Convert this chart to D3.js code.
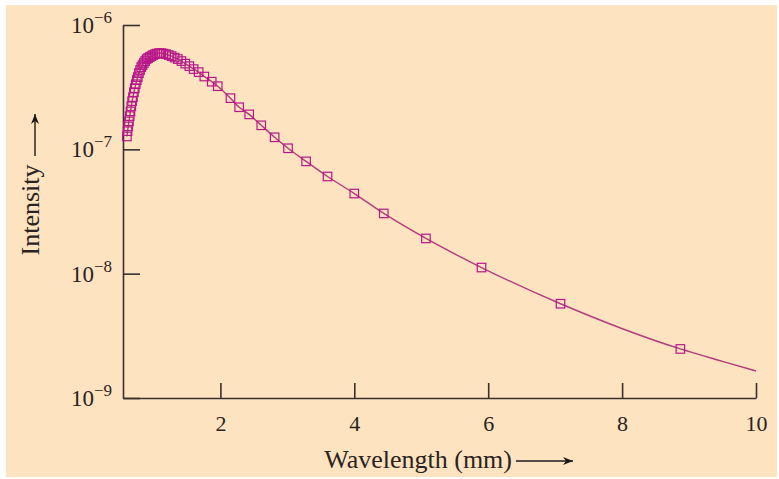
<!DOCTYPE html>
<html lang="en">
<head>
<meta charset="UTF-8">
<script src="https://d3js.org/d3.v7.min.js"></script>
<title>Intensity vs Wavelength</title>
<style>
  body { margin: 0; background: #ffffff; }
  text { font-family: "Liberation Serif", "DejaVu Serif", serif; fill: #2b2222; }
</style>
</head>
<body>
<div id="viz"></div>
<script>
const markerWavelength = [0.603, 0.613, 0.623, 0.634, 0.645, 0.657, 0.669, 0.681, 0.694, 0.708,
  0.721, 0.736, 0.751, 0.766, 0.783, 0.800, 0.818, 0.836, 0.856, 0.876,
  0.898, 0.920, 0.944, 0.969, 0.995, 1.023, 1.052, 1.083, 1.116, 1.151,
  1.188, 1.228, 1.270, 1.316, 1.364, 1.417, 1.475, 1.536, 1.600, 1.675,
  1.760, 1.870, 1.960, 2.150, 2.280, 2.430, 2.610, 2.810, 3.010, 3.280,
  3.600, 4.000, 4.440, 5.070, 5.900, 7.080, 8.870]
const markerIntensity = [1.27e-7, 1.40e-7, 1.53e-7, 1.68e-7, 1.85e-7, 2.02e-7, 2.22e-7, 2.44e-7, 2.63e-7, 2.88e-7,
  3.10e-7, 3.34e-7, 3.60e-7, 3.81e-7, 4.10e-7, 4.34e-7, 4.58e-7, 4.75e-7, 4.94e-7, 5.13e-7,
  5.32e-7, 5.42e-7, 5.52e-7, 5.62e-7, 5.73e-7, 5.83e-7, 5.89e-7, 5.94e-7, 5.94e-7, 5.89e-7,
  5.83e-7, 5.73e-7, 5.62e-7, 5.47e-7, 5.32e-7, 5.13e-7, 4.89e-7, 4.67e-7, 4.42e-7, 4.18e-7,
  3.85e-7, 3.50e-7, 3.22e-7, 2.58e-7, 2.18e-7, 1.91e-7, 1.56e-7, 1.25e-7, 1.02e-7, 8.0e-8,
  6.05e-8, 4.41e-8, 3.05e-8, 1.92e-8, 1.12e-8, 5.73e-9, 2.48e-9]

// fitted curve continues past the last point
const tailWavelength = [9.5, 10.0]
const tailIntensity = [1.97e-9, 1.65e-9]

const xTicks = [2, 4, 6, 8, 10]
const yTicks = [1e-9, 1e-8, 1e-7, 1e-6]
const yTickExp = ["\u22129", "\u22128", "\u22127", "\u22126"]

const fullWidth = 779
const fullHeight = 479
const margins = { top: 25, right: 23, bottom: 81, left: 123 }
const width = fullWidth - margins.left - margins.right
const height = fullHeight - margins.top - margins.bottom

const svg = d3.select("#viz")
  .append("svg")
  .attr("width", fullWidth)
  .attr("height", fullHeight)

svg.append("rect")
  .attr("x", 6).attr("y", 5)
  .attr("width", fullWidth - 8).attr("height", fullHeight - 7)
  .attr("fill", "#fde3bf")

const g = svg.append("g")
  .attr("transform", "translate(" + margins.left + "," + margins.top + ")")

const xScale = d3.scaleLinear().domain([0.545, 10]).range([0, width])
const yScale = d3.scaleLog().domain([1e-9, 1e-6]).range([height, 0])

const axisColor = "#3b3030"

// x axis, ticks pointing inward
const xAxis = g.append("g")
  .attr("transform", "translate(0," + height + ")")
  .call(d3.axisBottom(xScale).tickValues(xTicks).tickSize(-15).tickPadding(17).tickSizeOuter(0))
xAxis.select(".domain").attr("stroke", axisColor).attr("stroke-width", 1.6)
xAxis.selectAll(".tick line").attr("stroke", axisColor).attr("stroke-width", 1.6)
xAxis.selectAll(".tick text").attr("font-size", 22).attr("fill", "#2b2222")
  .attr("font-family", "Liberation Serif").attr("dy", "0.71em")

// y axis, ticks pointing inward, labels as 10^n
const yAxis = g.append("g")
  .call(d3.axisLeft(yScale).tickValues(yTicks).tickSize(-17).tickSizeOuter(0).tickFormat(""))
yAxis.select(".domain").attr("stroke", axisColor).attr("stroke-width", 1.6)
yAxis.selectAll(".tick line").attr("stroke", axisColor).attr("stroke-width", 1.6)

yTicks.forEach((v, i) => {
  const t = g.append("text")
    .attr("x", -11)
    .attr("y", yScale(v) + 8)
    .attr("text-anchor", "end")
    .attr("font-size", 23)
  t.append("tspan").text("10")
  t.append("tspan").attr("font-size", 17).attr("dy", -10).text(yTickExp[i])
})

// arrows for axis titles
const defs = svg.append("defs")
defs.append("marker")
  .attr("id", "arrow")
  .attr("viewBox", "0 0 10 8")
  .attr("refX", 10).attr("refY", 4)
  .attr("markerWidth", 11).attr("markerHeight", 8)
  .attr("markerUnits", "userSpaceOnUse")
  .attr("orient", "auto")
  .append("path")
  .attr("d", "M0,0 L10,4 L0,8 L3,4 Z")
  .attr("fill", "#1e1818")

svg.append("text")
  .attr("x", 512).attr("y", 468)
  .attr("text-anchor", "end")
  .attr("font-size", 26)
  .text("Wavelength (mm)")
svg.append("line")
  .attr("x1", 516).attr("y1", 461).attr("x2", 573).attr("y2", 461)
  .attr("stroke", "#1e1818").attr("stroke-width", 1.4)
  .attr("marker-end", "url(#arrow)")

svg.append("text")
  .attr("transform", "translate(39,210) rotate(-90)")
  .attr("text-anchor", "middle")
  .attr("font-size", 26)
  .text("Intensity")
svg.append("line")
  .attr("x1", 35).attr("y1", 156).attr("x2", 35).attr("y2", 114)
  .attr("stroke", "#1e1818").attr("stroke-width", 1.4)
  .attr("marker-end", "url(#arrow)")

// curve
const curvePts = markerWavelength.map((w, i) => [w, markerIntensity[i]])
  .concat(tailWavelength.map((w, i) => [w, tailIntensity[i]]))

const line = d3.line()
  .x(d => xScale(d[0]))
  .y(d => yScale(d[1]))
  .curve(d3.curveMonotoneX)

g.append("path")
  .datum(curvePts)
  .attr("d", line)
  .attr("fill", "none")
  .attr("stroke", "#b23c7e")
  .attr("stroke-width", 1.4)

// square markers
const sq = 8.5
g.selectAll(".pt")
  .data(markerWavelength.map((w, i) => [w, markerIntensity[i]]))
  .enter()
  .append("rect")
  .attr("class", "pt")
  .attr("x", d => xScale(d[0]) - sq / 2)
  .attr("y", d => yScale(d[1]) - sq / 2)
  .attr("width", sq)
  .attr("height", sq)
  .attr("fill", "none")
  .attr("stroke", "#b8168a")
  .attr("stroke-width", 1.2)
</script>
</body>
</html>
